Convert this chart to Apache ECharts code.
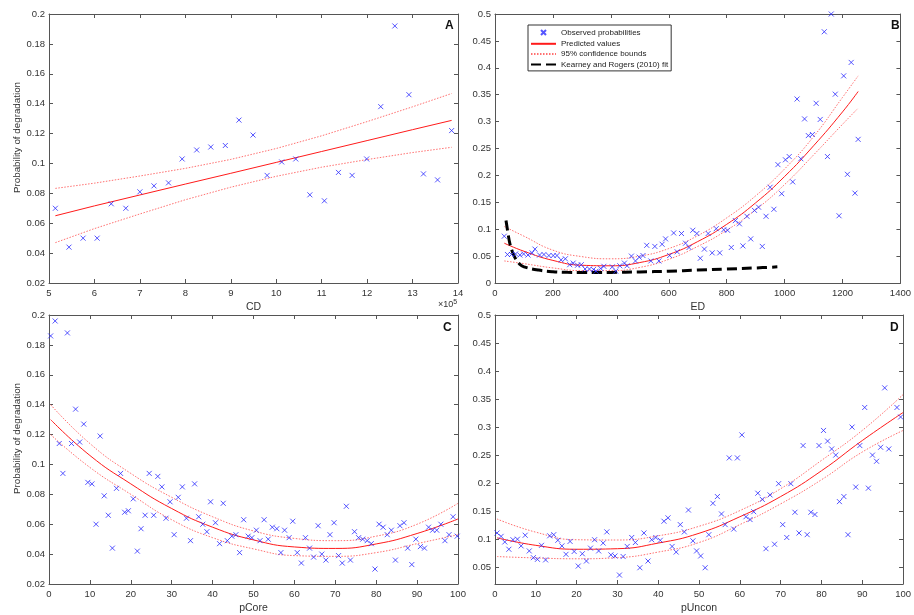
<!DOCTYPE html>
<html>
<head>
<meta charset="utf-8">
<script src="https://cdn.jsdelivr.net/npm/echarts@6/dist/echarts.min.js"></script>
<style>
html, body { margin: 0; padding: 0; background: #fff; }
#chart { width: 914px; height: 615px; }
</style>
</head>
<body>
<div id="chart"></div>
<script>
// panel A: CD (x in units of 1e5)
const cdX = [5.14, 5.44, 5.75, 6.06, 6.37, 6.69, 7.0, 7.31, 7.63, 7.93, 8.25, 8.56, 8.88, 9.18, 9.49,
  9.8, 10.12, 10.43, 10.74, 11.06, 11.37, 11.67, 11.99, 12.3, 12.61, 12.92, 13.24, 13.55, 13.86]
const cdY = [0.070, 0.044, 0.050, 0.050, 0.073, 0.070, 0.081, 0.085, 0.087, 0.103, 0.109, 0.111, 0.112, 0.129, 0.119,
  0.092, 0.101, 0.103, 0.079, 0.075, 0.094, 0.092, 0.103, 0.138, 0.192, 0.146, 0.093, 0.089, 0.122]
const cdFitX = [5.14, 6, 7, 8, 9, 10, 11, 12, 13, 13.86]
const cdFit = [0.065, 0.0716, 0.0789, 0.0862, 0.0934, 0.1007, 0.108, 0.1153, 0.1226, 0.1288]
const cdUpper = [0.0833, 0.0868, 0.0916, 0.0967, 0.1027, 0.110, 0.1185, 0.128, 0.1379, 0.1468]
const cdLower = [0.047, 0.0564, 0.0662, 0.0757, 0.0841, 0.0914, 0.0975, 0.1026, 0.1073, 0.1108]

// panel B: ED
const edX = [32, 43, 57, 71, 86, 99, 114, 128, 138, 154,
  169, 186, 201, 214, 228, 243, 258, 270, 285, 298,
  311, 326, 340, 349, 365, 376, 405, 417, 431, 447,
  456, 471, 485, 498, 511, 524, 538, 552, 566, 577,
  589, 603, 617, 629, 644, 658, 670, 683, 697, 709,
  723, 736, 750, 764, 776, 790, 803, 816, 830, 844,
  856, 870, 883, 896, 910, 923, 936, 950, 963, 977,
  990, 1003, 1016, 1028, 1043, 1056, 1069, 1082, 1096, 1109,
  1123, 1137, 1148, 1161, 1175, 1188, 1204, 1217, 1230, 1243, 1254]
const edY = [0.087, 0.053, 0.053, 0.054, 0.052, 0.054, 0.052, 0.056, 0.063, 0.052,
  0.053, 0.051, 0.051, 0.051, 0.043, 0.045, 0.034, 0.037, 0.033, 0.034,
  0.026, 0.026, 0.025, 0.022, 0.027, 0.031, 0.030, 0.022, 0.032, 0.037,
  0.032, 0.050, 0.041, 0.048, 0.051, 0.070, 0.041, 0.068, 0.041, 0.072,
  0.082, 0.051, 0.093, 0.058, 0.092, 0.074, 0.066, 0.098, 0.092, 0.046,
  0.063, 0.092, 0.056, 0.101, 0.056, 0.099, 0.098, 0.066, 0.116, 0.110,
  0.069, 0.124, 0.082, 0.135, 0.141, 0.068, 0.124, 0.178, 0.137, 0.220,
  0.166, 0.229, 0.235, 0.188, 0.342, 0.231, 0.305, 0.274, 0.276, 0.334,
  0.304, 0.467, 0.235, 0.500, 0.351, 0.125, 0.385, 0.202, 0.410, 0.167, 0.267]
const edFitX = [32, 100, 200, 300, 400, 500, 600, 700, 800, 900, 1000, 1100, 1200, 1254]
const edFit = [0.074, 0.059, 0.042, 0.033, 0.032, 0.038, 0.053, 0.077, 0.109, 0.149, 0.198, 0.255, 0.318, 0.356]
const edUpper = [0.105, 0.087, 0.061, 0.049, 0.045, 0.050, 0.064, 0.088, 0.121, 0.162, 0.212, 0.272, 0.345, 0.385]
const edLower = [0.041, 0.036, 0.028, 0.023, 0.023, 0.029, 0.044, 0.068, 0.098, 0.136, 0.183, 0.238, 0.295, 0.325]
const krX = [38, 45, 51, 60, 70, 85, 100, 150, 200, 250, 300, 350, 400, 500, 600, 700, 800, 900, 975]
const krY = [0.116, 0.092, 0.074, 0.058, 0.046, 0.035, 0.030, 0.024, 0.021, 0.0198, 0.0195, 0.0195, 0.0197,
  0.0205, 0.022, 0.024, 0.026, 0.028, 0.030]

// panel C: pCore
const pCoreX = [0.4, 1.5, 2.5, 3.4, 4.5, 5.5, 6.5, 7.5, 8.5, 9.5,
  10.5, 11.5, 12.5, 13.5, 14.5, 15.5, 16.5, 17.5, 18.5, 19.4,
  20.6, 21.6, 22.5, 23.5, 24.5, 25.6, 26.6, 27.6, 28.6, 29.6,
  30.6, 31.6, 32.6, 33.6, 34.6, 35.6, 36.6, 37.6, 38.6, 39.5,
  40.7, 41.7, 42.6, 43.6, 44.7, 45.7, 46.6, 47.6, 48.7, 49.6,
  50.7, 51.6, 52.6, 53.6, 54.6, 55.7, 56.7, 57.6, 58.7, 59.6,
  60.7, 61.7, 62.7, 63.7, 64.7, 65.8, 66.7, 67.7, 68.7, 69.7,
  70.8, 71.7, 72.7, 73.7, 74.7, 75.7, 76.7, 77.8, 78.8, 79.7,
  80.7, 81.7, 82.7, 83.7, 84.7, 85.8, 86.8, 87.7, 88.7, 89.7,
  90.8, 91.8, 92.8, 93.8, 94.8, 95.8, 96.8, 97.8, 98.8, 99.8]
const pCoreY = [0.186, 0.196, 0.114, 0.094, 0.188, 0.114, 0.137, 0.115, 0.127, 0.088,
  0.087, 0.060, 0.119, 0.079, 0.066, 0.044, 0.084, 0.094, 0.068, 0.069,
  0.077, 0.042, 0.057, 0.066, 0.094, 0.066, 0.092, 0.085, 0.064, 0.075,
  0.053, 0.078, 0.085, 0.064, 0.049, 0.087, 0.065, 0.060, 0.055, 0.075,
  0.061, 0.047, 0.074, 0.049, 0.052, 0.053, 0.041, 0.063, 0.052, 0.051,
  0.056, 0.049, 0.063, 0.050, 0.058, 0.057, 0.041, 0.056, 0.051, 0.062,
  0.041, 0.034, 0.051, 0.044, 0.038, 0.059, 0.040, 0.036, 0.053, 0.061,
  0.039, 0.034, 0.072, 0.036, 0.055, 0.051, 0.050, 0.049, 0.047, 0.030,
  0.060, 0.058, 0.053, 0.056, 0.036, 0.059, 0.061, 0.044, 0.033, 0.050,
  0.045, 0.044, 0.058, 0.056, 0.056, 0.060, 0.049, 0.053, 0.065, 0.052]
const pCoreFitX = [0.4, 10, 20, 30, 40, 50, 60, 70, 80, 90, 100]
const pCoreFit = [0.130, 0.106, 0.087, 0.0705, 0.058, 0.0495, 0.0448, 0.0438, 0.0468, 0.0538, 0.0635]
const pCoreUpper = [0.140, 0.114, 0.094, 0.078, 0.065, 0.0555, 0.0505, 0.049, 0.052, 0.060, 0.074]
const pCoreLower = [0.120, 0.098, 0.080, 0.063, 0.051, 0.0435, 0.039, 0.0385, 0.041, 0.047, 0.053]

// panel D: pUncon
const pUnconX = [0.5, 1.5, 2.4, 3.4, 4.4, 5.5, 6.4, 7.4, 8.4, 9.4,
  10.4, 11.4, 12.4, 13.4, 14.4, 15.4, 16.4, 17.4, 18.4, 19.4,
  20.4, 21.4, 22.4, 23.4, 24.4, 25.4, 26.5, 27.4, 28.4, 29.4,
  30.5, 31.4, 32.4, 33.5, 34.4, 35.5, 36.5, 37.5, 38.4, 39.4,
  40.5, 41.4, 42.4, 43.4, 44.4, 45.4, 46.4, 47.4, 48.5, 49.4,
  50.4, 51.5, 52.4, 53.4, 54.5, 55.5, 56.4, 57.4, 58.5, 59.4,
  60.5, 61.5, 62.5, 63.4, 64.4, 65.5, 66.4, 67.4, 68.5, 69.5,
  70.5, 71.5, 72.5, 73.5, 74.5, 75.5, 76.5, 77.4, 78.4, 79.4,
  80.5, 81.5, 82.5, 83.5, 84.4, 85.5, 86.5, 87.5, 88.4, 89.4,
  90.6, 91.5, 92.5, 93.5, 94.5, 95.5, 96.5, 98.5, 99.4]
const pUnconY = [0.111, 0.105, 0.095, 0.082, 0.099, 0.100, 0.088, 0.107, 0.079, 0.067,
  0.064, 0.089, 0.063, 0.106, 0.108, 0.098, 0.088, 0.073, 0.096, 0.078,
  0.052, 0.074, 0.061, 0.084, 0.099, 0.079, 0.093, 0.113, 0.072, 0.070,
  0.036, 0.069, 0.087, 0.103, 0.094, 0.049, 0.111, 0.061, 0.099, 0.103,
  0.098, 0.132, 0.138, 0.087, 0.077, 0.126, 0.113, 0.152, 0.097, 0.079,
  0.070, 0.049, 0.108, 0.164, 0.176, 0.145, 0.126, 0.245, 0.118, 0.245,
  0.286, 0.140, 0.135, 0.149, 0.182, 0.171, 0.083, 0.179, 0.091, 0.199,
  0.126, 0.103, 0.199, 0.148, 0.111, 0.267, 0.108, 0.148, 0.144, 0.267,
  0.294, 0.275, 0.261, 0.250, 0.167, 0.176, 0.108, 0.300, 0.193, 0.267,
  0.335, 0.191, 0.250, 0.239, 0.264, 0.370, 0.261, 0.335, 0.318]
const pUnconFitX = [0.5, 10, 20, 30, 40, 50, 60, 70, 80, 90, 100]
const pUnconFit = [0.1024, 0.089, 0.082, 0.083, 0.093, 0.1105, 0.140, 0.176, 0.222, 0.276, 0.326]
const pUnconUpper = [0.136, 0.1125, 0.099, 0.0985, 0.106, 0.123, 0.151, 0.190, 0.2405, 0.294, 0.358]
const pUnconLower = [0.069, 0.0665, 0.065, 0.067, 0.077, 0.094, 0.126, 0.163, 0.206, 0.2555, 0.294]

const dYTicks = [0.05, 0.1, 0.15, 0.2, 0.25, 0.3, 0.35, 0.4, 0.45, 0.5]

const FONT = 'Liberation Sans, Arial, sans-serif'
const AXIS_COLOR = '#555'
const TEXT_COLOR = '#333'
const CROSS = 'path://M0,0L10,10M10,0L0,10'
const RED = '#ff1a1a'
const PINK = '#ff7070'

const pairs = (xs, ys) => xs.map((x, i) => [x, ys[i]])

function xAx(gi, min, max, interval, name, mirror) {
  return {
    type: 'value', gridIndex: gi, min, max, interval,
    position: mirror ? 'top' : 'bottom',
    name: mirror ? '' : name, nameLocation: 'middle', nameGap: 19,
    nameTextStyle: { fontFamily: FONT, fontSize: 10.5, color: TEXT_COLOR },
    axisLine: { show: true, onZero: false, lineStyle: { color: AXIS_COLOR, width: 1 } },
    axisTick: { show: true, inside: true, length: 4, lineStyle: { color: AXIS_COLOR } },
    axisLabel: { show: !mirror, margin: 5, fontFamily: FONT, fontSize: 9.5, color: TEXT_COLOR,
      formatter: v => String(v) },
    splitLine: { show: false },
  }
}

function yAx(gi, min, max, interval, name, mirror, custom) {
  const ax = {
    type: 'value', gridIndex: gi, min, max, interval,
    position: mirror ? 'right' : 'left',
    name: mirror ? '' : name, nameLocation: 'middle', nameGap: 22,
    nameTextStyle: { fontFamily: FONT, fontSize: 9.8, color: TEXT_COLOR, padding: [0, 0, 0, 22] },
    axisLine: { show: true, onZero: false, lineStyle: { color: AXIS_COLOR, width: 1 } },
    axisTick: { show: true, inside: true, length: 4, lineStyle: { color: AXIS_COLOR } },
    axisLabel: { show: !mirror, margin: 4, fontFamily: FONT, fontSize: 9.5, color: TEXT_COLOR,
      formatter: v => String(v) },
    splitLine: { show: false },
  }
  if (custom) {
    delete ax.interval
    ax.axisTick.customValues = custom
    ax.axisLabel.customValues = custom
  }
  return ax
}

function panelSeries(i, xs, ys, fx, fit, up, lo, smooth) {
  const common = { xAxisIndex: i, yAxisIndex: i, animation: false }
  return [
    { ...common, type: 'scatter', name: 'Observed probabilities', data: pairs(xs, ys),
      symbol: CROSS, symbolSize: 5, symbolKeepAspect: true, z: 5,
      itemStyle: { color: 'none', borderColor: '#2a2aff', borderWidth: 1 } },
    { ...common, type: 'line', name: 'Predicted values', data: pairs(fx, fit),
      symbol: 'none', smooth, z: 3,
      itemStyle: { color: RED }, lineStyle: { color: RED, width: 1 } },
    { ...common, type: 'line', name: '95% confidence bounds', data: pairs(fx, up),
      symbol: 'none', smooth, z: 2,
      itemStyle: { color: PINK }, lineStyle: { color: PINK, width: 1, type: [1.5, 1.5] } },
    { ...common, type: 'line', name: '95% confidence bounds', data: pairs(fx, lo),
      symbol: 'none', smooth, z: 2,
      itemStyle: { color: PINK }, lineStyle: { color: PINK, width: 1, type: [1.5, 1.5] } },
  ]
}

function letter(text, x, y) {
  return { type: 'text', left: x, top: y,
    style: { text, fontFamily: FONT, fontSize: 12, fontWeight: 'bold', fill: '#111' } }
}

const hidden = { opacity: 0 }

const chart = echarts.init(document.getElementById('chart'), null, { renderer: 'canvas' })

chart.setOption({
  animation: false,
  backgroundColor: '#fff',
  grid: [
    { left: 49, top: 14, width: 409, height: 269 },
    { left: 495, top: 14, width: 409, height: 269 },
    { left: 49, top: 315, width: 409, height: 269 },
    { left: 495, top: 315, width: 409, height: 269 },
  ],
  xAxis: [
    xAx(0, 5, 14, 1, 'CD'),
    xAx(1, 0, 1400, 200, 'ED'),
    xAx(2, 0, 100, 10, 'pCore'),
    xAx(3, 0, 100, 10, 'pUncon'),
    xAx(0, 5, 14, 1, '', true),
    xAx(1, 0, 1400, 200, '', true),
    xAx(2, 0, 100, 10, '', true),
    xAx(3, 0, 100, 10, '', true),
  ],
  yAxis: [
    yAx(0, 0.02, 0.2, 0.02, 'Probability of degradation'),
    yAx(1, 0, 0.5, 0.05, ''),
    yAx(2, 0.02, 0.2, 0.02, 'Probability of degradation'),
    yAx(3, 0.02, 0.5, null, '', false, dYTicks),
    yAx(0, 0.02, 0.2, 0.02, '', true),
    yAx(1, 0, 0.5, 0.05, '', true),
    yAx(2, 0.02, 0.2, 0.02, '', true),
    yAx(3, 0.02, 0.5, null, '', true, dYTicks),
  ],
  legend: {
    orient: 'vertical', left: 528, top: 25,
    itemWidth: 25, itemHeight: 5, itemGap: 2.3,
    padding: [2.5, 3, 2.5, 2],
    borderColor: '#333', borderWidth: 1, borderRadius: 0, backgroundColor: '#fff',
    selectedMode: false,
    textStyle: { fontFamily: FONT, fontSize: 8, color: '#222' },
    data: [
      { name: 'Observed probabilities' },
      { name: 'Predicted values', itemStyle: hidden },
      { name: '95% confidence bounds', itemStyle: hidden },
      { name: 'Kearney and Rogers (2010) fit', itemStyle: hidden },
    ],
  },
  graphic: [
    letter('A', 445, 20),
    letter('B', 891, 20),
    letter('C', 443, 322),
    letter('D', 890, 322),
    { type: 'text', left: 438, top: 299,
      style: { text: '{a|×10}{b|5}', rich: {
        a: { fontFamily: FONT, fontSize: 9, fill: TEXT_COLOR },
        b: { fontFamily: FONT, fontSize: 7, fill: TEXT_COLOR, verticalAlign: 'top', padding: [0, 0, 5, 0] } } } },
  ],
  series: [
    ...panelSeries(0, cdX, cdY, cdFitX, cdFit, cdUpper, cdLower, false),
    ...panelSeries(1, edX, edY, edFitX, edFit, edUpper, edLower, true),
    { type: 'line', name: 'Kearney and Rogers (2010) fit', xAxisIndex: 1, yAxisIndex: 1,
      data: pairs(krX, krY), symbol: 'none', smooth: 0.4, z: 4,
      itemStyle: { color: '#000' }, lineStyle: { color: '#000', width: 3, type: [10, 5] } },
    ...panelSeries(2, pCoreX, pCoreY, pCoreFitX, pCoreFit, pCoreUpper, pCoreLower, true),
    ...panelSeries(3, pUnconX, pUnconY, pUnconFitX, pUnconFit, pUnconUpper, pUnconLower, true),
  ],
})
</script>
</body>
</html>
